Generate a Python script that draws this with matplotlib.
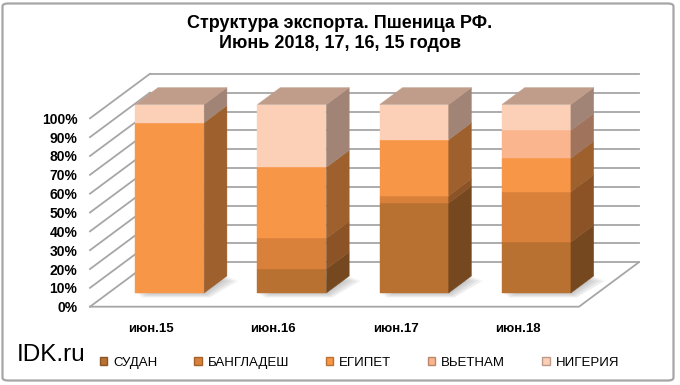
import matplotlib
matplotlib.use('Agg')
import matplotlib.pyplot as plt
import matplotlib.colors as mcolors
from matplotlib.patches import Polygon, Patch, FancyBboxPatch

plt.rcParams['font.family'] = ['Liberation Sans', 'DejaVu Sans']

# данные (доли, %)
months = ['июн.15', 'июн.16', 'июн.17', 'июн.18']
countries = ['СУДАН', 'БАНГЛАДЕШ', 'ЕГИПЕТ', 'ВЬЕТНАМ', 'НИГЕРИЯ']
sudan = [0, 12.7, 47.7, 27.0]
bangladesh = [0, 16.3, 3.9, 26.7]
egypt = [90.4, 37.7, 29.7, 17.8]
vietnam = [0, 0, 0, 14.8]
nigeria = [9.6, 33.3, 18.7, 13.7]
colors = ['#B97131', '#D9813B', '#F79646', '#FAB58F', '#FCCFB7']
yticks = list(range(0, 101, 10))
ylabels = [str(v) + '%' for v in yticks]

W, H = 680, 385
DX, DY = 0.49, 23.6      # сдвиг "глубины" для псевдо-3D
d0, d1 = 0.31, 0.69      # передняя и задняя грань столбца по глубине
bar_w = 0.564
grid_c = '#A6A6A6'


def shade(c, k):
    r, g, b = mcolors.to_rgb(c)
    return (r * k, g * k, b * k)


def pt(x, y, d):
    return (x + d * DX, y + d * DY)


fig = plt.figure(figsize=(6.8, 3.85), dpi=100)
ax = fig.add_axes([90 / W, 78.3 / H, (4 + DX) * 122.25 / W, (100 + DY) * 1.884 / H])
ax.set_xlim(0, 4 + DX)
ax.set_ylim(0, 100 + DY)
ax.set_facecolor('none')
for s in ax.spines.values():
    s.set_visible(False)

# стенки и пол
for v in yticks:
    ax.plot([DX, 4 + DX], [v + DY, v + DY], color=grid_c, lw=1.3, clip_on=False, zorder=1)
    ax.plot([0, DX], [v, v + DY], color=grid_c, lw=1.3, clip_on=False, zorder=1)
ax.plot([0, 4, 4 + DX], [0, 0, DY], color=grid_c, lw=1.3, clip_on=False, zorder=1)

series = [sudan, bangladesh, egypt, vietnam, nigeria]
for i in range(4):
    l = i + 0.5 - bar_w / 2
    r = i + 0.5 + bar_w / 2
    # тень на полу
    for k in range(1, 5):
        off = 0.012 * k
        foot = [pt(l + off, -0.6 * k, d0), pt(r + off, -0.6 * k, d0),
                pt(r + off * 2, -0.6 * k, d1), pt(l + off * 2, -0.6 * k, d1)]
        ax.add_patch(Polygon(foot, closed=True, facecolor='#808080', alpha=0.12,
                             lw=0, zorder=2, clip_on=False))
    bottom = 0
    last = None
    for j in range(len(series)):
        v = series[j][i]
        if v <= 0:
            continue
        t = bottom + v
        c = colors[j]
        front = [pt(l, bottom, d0), pt(r, bottom, d0), pt(r, t, d0), pt(l, t, d0)]
        side = [pt(r, bottom, d0), pt(r, bottom, d1), pt(r, t, d1), pt(r, t, d0)]
        ax.add_patch(Polygon(front, closed=True, facecolor=c, edgecolor=c, lw=0.3,
                             zorder=3, clip_on=False))
        ax.add_patch(Polygon(side, closed=True, facecolor=shade(c, 0.64),
                             edgecolor=shade(c, 0.64), lw=0.3, zorder=3, clip_on=False))
        bottom = t
        last = c
    top = [pt(l, bottom, d0), pt(r, bottom, d0), pt(r, bottom, d1), pt(l, bottom, d1)]
    ax.add_patch(Polygon(top, closed=True, facecolor=shade(last, 0.76),
                         edgecolor=shade(last, 0.76), lw=0.3, zorder=3, clip_on=False))

# подписи осей
ax.set_yticks(yticks, ylabels, fontsize=10, fontweight='bold')
ax.set_xticks([i + 0.5 for i in range(4)], months, fontsize=9.5, fontweight='bold')
ax.tick_params(axis='y', length=0, pad=9)
ax.tick_params(axis='x', length=0, pad=12)

# заголовок
fig.text(0.5, 1 - 28.5 / H, 'Структура экспорта. Пшеница РФ.', ha='center', va='baseline',
         fontsize=13, fontweight='bold')
fig.text(0.5, 1 - 48 / H, 'Июнь 2018, 17, 16, 15 годов', ha='center', va='baseline',
         fontsize=13, fontweight='bold')

fig.text(17 / W, 1 - 355 / H, 'IDK.ru', fontsize=17.5, va='center')

handles = [Patch(facecolor=c, edgecolor=shade(c, 0.75)) for c in colors]
fig.legend(handles, countries, loc='center left', bbox_to_anchor=(100 / W, 1 - 363 / H),
           ncol=5, frameon=False, fontsize=9.5, handlelength=0.55, handleheight=0.55,
           handletextpad=0.45, columnspacing=2.8, borderpad=0, borderaxespad=0)

# рамка
fig.patches.append(FancyBboxPatch((2.5 / W, 4.5 / H), 671 / W, 377 / H,
                                  boxstyle='round,pad=0,rounding_size=0.008',
                                  transform=fig.transFigure, facecolor='none',
                                  edgecolor='#A6A6A6', lw=1.6))

plt.savefig('out.png', dpi=100)
